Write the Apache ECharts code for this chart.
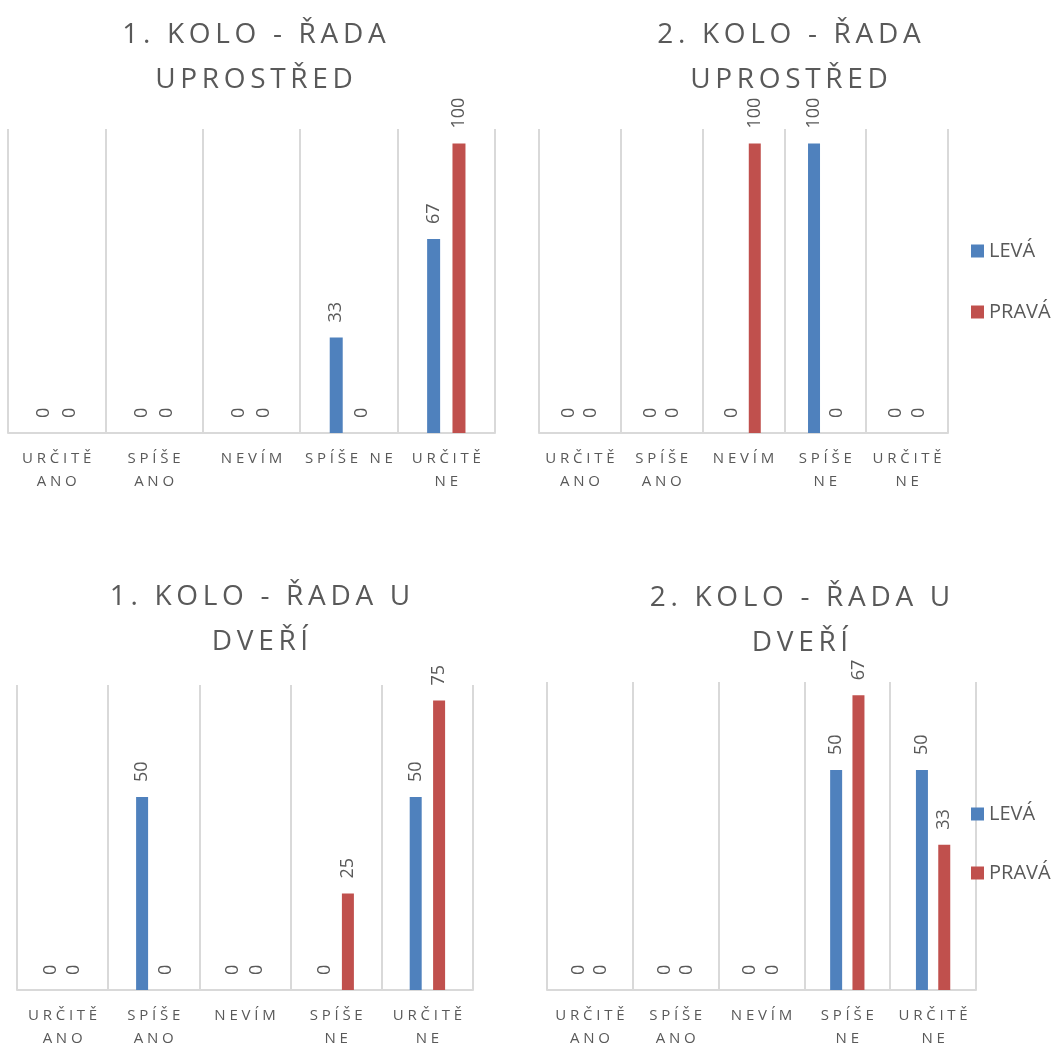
<!DOCTYPE html>
<html>
<head>
<meta charset="utf-8">
<script src="https://cdn.jsdelivr.net/npm/echarts@6/dist/echarts.min.js"></script>
<style>
  html, body { margin: 0; padding: 0; background: #ffffff; }
  #main { width: 1060px; height: 1050px; }
</style>
</head>
<body>
<div id="main"></div>
<script>
// ---- data ----
const categories = ['URČITĚ ANO', 'SPÍŠE ANO', 'NEVÍM', 'SPÍŠE NE', 'URČITĚ NE'];
const seriesNames = ['LEVÁ', 'PRAVÁ'];
const titles = [
  '1. KOLO - ŘADA\nUPROSTŘED',
  '2. KOLO - ŘADA\nUPROSTŘED',
  '1. KOLO - ŘADA U\nDVEŘÍ',
  '2. KOLO - ŘADA U\nDVEŘÍ'
];
const leva1 = [0, 0, 0, 33, 67];
const prava1 = [0, 0, 0, 0, 100];
const leva2 = [0, 0, 0, 100, 0];
const prava2 = [0, 0, 100, 0, 0];
const leva3 = [0, 50, 0, 0, 50];
const prava3 = [0, 0, 0, 25, 75];
const leva4 = [0, 0, 0, 50, 50];
const prava4 = [0, 0, 0, 67, 33];

// ---- layout / style ----
const FONT = '"Open Sans", "Noto Sans", sans-serif';
const TXT = '#595959';
const GRIDC = '#D9D9D9';
const COLORS = ['#4F81BD', '#C0504D'];
const SP_AXIS = '\u2005';
const SP_TITLE = '\u2006';

const panels = [
  { leva: leva1, prava: prava1, grid: { left: 8, top: 129, width: 487, height: 304 }, max: 105,
    titleX: 254, titleTop: 13, barWidth: 13, barGap: '95%', oneLine: true },
  { leva: leva2, prava: prava2, grid: { left: 539, top: 129, width: 409, height: 304 }, max: 105,
    titleX: 789, titleTop: 13, barWidth: 12, barGap: '88%', oneLine: false },
  { leva: leva3, prava: prava3, grid: { left: 17, top: 685, width: 456, height: 311 }, max: 79,
    titleX: 260, titleTop: 575, barWidth: 12, barGap: '95%', oneLine: false },
  { leva: leva4, prava: prava4, grid: { left: 547, top: 682, width: 429, height: 315 }, max: 70,
    titleX: 800, titleTop: 576, barWidth: 12, barGap: '86%', oneLine: false }
];

function spaced(s, sp) {
  return s.split('\n').map(line => Array.from(line).join(sp)).join('\n');
}
function axisFmt(oneLine) {
  return function (v) {
    const words = v.split(' ');
    const txt = (oneLine && v === 'SPÍŠE NE') ? v : words.join('\n');
    return spaced(txt, SP_AXIS);
  };
}

const option = {
  animation: false,
  backgroundColor: '#ffffff',
  title: panels.map((p, i) => ({
    text: spaced(titles[i], SP_TITLE),
    left: p.titleX,
    top: p.titleTop,
    textAlign: 'center',
    padding: 0,
    textStyle: { fontFamily: FONT, fontSize: 28, fontWeight: 'normal', color: TXT, lineHeight: 45 }
  })),
  legend: [
    { data: seriesNames, orient: 'vertical', left: 971, top: 240, itemWidth: 13, itemHeight: 13, itemGap: 39,
      icon: 'rect', padding: 0, textStyle: { fontFamily: FONT, fontSize: 20, color: TXT, lineHeight: 22 } },
    { data: seriesNames, orient: 'vertical', left: 971, top: 803, itemWidth: 13, itemHeight: 13, itemGap: 37,
      icon: 'rect', padding: 0, textStyle: { fontFamily: FONT, fontSize: 20, color: TXT, lineHeight: 22 } }
  ],
  grid: panels.map(p => Object.assign({ containLabel: false }, p.grid)),
  xAxis: panels.map((p, i) => ({
    type: 'category',
    gridIndex: i,
    data: categories,
    axisLine: { lineStyle: { color: GRIDC, width: 2 } },
    axisTick: { show: false },
    splitLine: { show: true, lineStyle: { color: GRIDC, width: 2 } },
    axisLabel: { interval: 0, margin: 14, fontFamily: FONT, fontSize: 15, lineHeight: 23, color: TXT,
      formatter: axisFmt(p.oneLine) }
  })),
  yAxis: panels.map((p, i) => ({
    type: 'value', gridIndex: i, min: 0, max: p.max, show: false, splitLine: { show: false }
  })),
  series: []
};

panels.forEach((p, i) => {
  [p.leva, p.prava].forEach((vals, k) => {
    option.series.push({
      type: 'bar',
      name: seriesNames[k],
      xAxisIndex: i,
      yAxisIndex: i,
      data: vals,
      barWidth: p.barWidth,
      barGap: p.barGap,
      itemStyle: { color: COLORS[k] },
      label: {
        show: true, position: 'top', rotate: 90, align: 'left', verticalAlign: 'middle',
        distance: 15, fontFamily: FONT, fontSize: 18, color: TXT
      }
    });
  });
});

const chart = echarts.init(document.getElementById('main'), null, { renderer: 'canvas' });
chart.setOption(option);
</script>
</body>
</html>
